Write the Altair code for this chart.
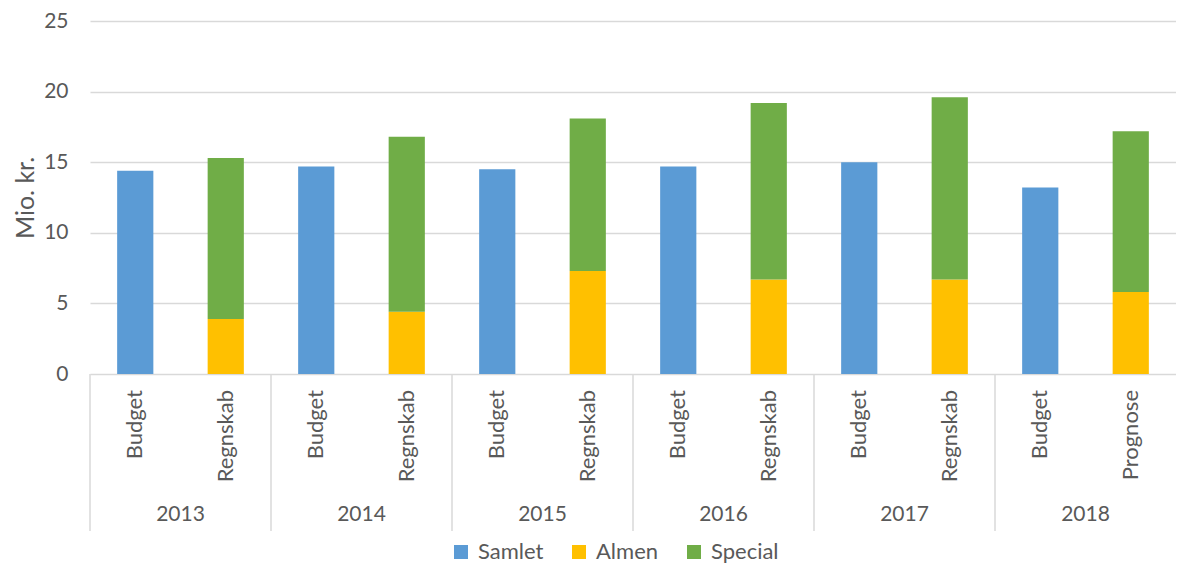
import altair as alt
import pandas as pd

years = ["2013", "2014", "2015", "2016", "2017", "2018"]
first_labels = ["Budget", "Budget", "Budget", "Budget", "Budget", "Budget"]
second_labels = ["Regnskab", "Regnskab", "Regnskab", "Regnskab", "Regnskab", "Prognose"]
budget_samlet = [14.4, 14.7, 14.5, 14.7, 15.0, 13.2]
actual_almen = [3.9, 4.4, 7.3, 6.7, 6.7, 5.8]
actual_special = [11.4, 12.4, 10.8, 12.5, 12.9, 11.4]

series_names = ["Samlet", "Almen", "Special"]
series_colors = ["#5B9BD5", "#FFC000", "#70AD47"]

FONT = "Lato"
TXT = "#595959"
GRID = "#D9D9D9"
W, H = 1086, 353

rows = []
cats = []
for i, y in enumerate(years):
    rows.append({"idx": 2 * i, "series": "Samlet", "order": 0, "value": budget_samlet[i]})
    rows.append({"idx": 2 * i + 1, "series": "Almen", "order": 1, "value": actual_almen[i]})
    rows.append({"idx": 2 * i + 1, "series": "Special", "order": 2, "value": actual_special[i]})
    cats.append({"idx": 2 * i, "label": first_labels[i]})
    cats.append({"idx": 2 * i + 1, "label": second_labels[i]})
bars_df = pd.DataFrame(rows)
cats_df = pd.DataFrame(cats)
years_df = pd.DataFrame({"year": years, "pos": list(range(len(years)))})

xscale = alt.Scale(domain=[0, 2 * len(years)], nice=False, zero=False)

bars = (
    alt.Chart(bars_df)
    .transform_stack(stack="value", groupby=["idx"], as_=["y0", "y1"],
                     sort=[alt.SortField("order", order="ascending")])
    .transform_calculate(x0="datum.idx + 0.3", x1="datum.idx + 0.7")
    .mark_bar()
    .encode(
        x=alt.X("x0:Q", scale=xscale, axis=None),
        x2="x1:Q",
        y=alt.Y(
            "y0:Q",
            scale=alt.Scale(domain=[0, 25], nice=False),
            axis=alt.Axis(
                values=[0, 5, 10, 15, 20, 25],
                domain=False, ticks=False, grid=True,
                gridColor=GRID, gridWidth=1.3,
                labelFont=FONT, labelFontSize=21, labelColor=TXT, labelPadding=22,
                title="Mio. kr.", titleFont=FONT, titleFontSize=25, titleColor=TXT,
                titleFontWeight="normal", titlePadding=5,
            ),
        ),
        y2="y1:Q",
        color=alt.Color(
            "series:N",
            scale=alt.Scale(domain=series_names, range=series_colors),
            legend=alt.Legend(
                title=None, orient="none", direction="horizontal",
                legendX=360, legendY=520,
                symbolType="square", symbolSize=196, symbolStrokeWidth=0,
                labelFont=FONT, labelFontSize=22, labelColor=TXT,
                labelOffset=6, columnPadding=24,
            ),
        ),
    )
)

type_labels = (
    alt.Chart(cats_df)
    .transform_calculate(xc="datum.idx + 0.5")
    .mark_text(angle=270, align="right", baseline="middle", font=FONT, fontSize=22, color=TXT)
    .encode(x=alt.X("xc:Q", scale=xscale), y=alt.value(H + 16), text="label:N")
)

year_labels = (
    alt.Chart(years_df)
    .transform_calculate(xc="2 * datum.pos + 1")
    .mark_text(align="center", baseline="middle", font=FONT, fontSize=21, color=TXT)
    .encode(x=alt.X("xc:Q", scale=xscale), y=alt.value(H + 141), text="year:N")
)

separators = (
    alt.Chart(years_df)
    .transform_calculate(xe="2 * datum.pos")
    .mark_rule(color=GRID, strokeWidth=1.5)
    .encode(x=alt.X("xe:Q", scale=xscale), y=alt.value(H), y2=alt.value(H + 157))
)

chart = (
    alt.layer(bars, separators, type_labels, year_labels)
    .properties(
        width=W, height=H,
        autosize=alt.AutoSizeParams(type="none"),
        padding={"left": 82, "top": 13, "right": 0, "bottom": 190},
    )
    .configure_view(stroke=None)
)

chart.save("out.html", embed_options={"renderer": "svg", "actions": False})
